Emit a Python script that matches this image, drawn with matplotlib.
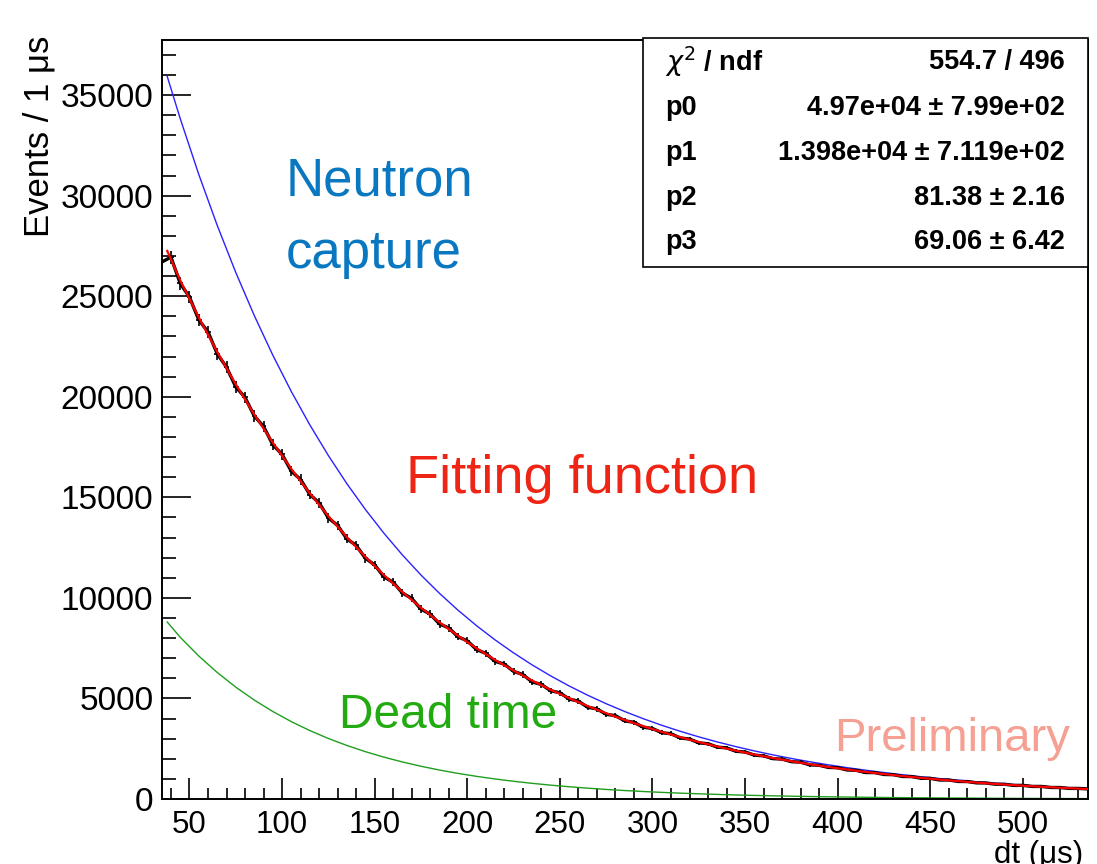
import numpy as np
import matplotlib
matplotlib.use("Agg")
import matplotlib.pyplot as plt
from matplotlib.patches import Rectangle
from matplotlib.ticker import MultipleLocator

plt.rcParams['font.family'] = ['Liberation Sans', 'DejaVu Sans']

# curve sample times (us)
curve_t = [38, 45, 55, 65, 75, 85, 95, 105, 115, 125, 135, 145, 155, 165, 175,
           185, 195, 205, 215, 225, 235, 245, 255, 265, 275, 285, 295, 305, 315,
           325, 335, 345, 355, 365, 375, 385, 395, 405, 415, 425, 435, 445, 455,
           465, 475, 485, 495, 505, 515, 525, 535]

# neutron capture component (blue)
capture = [35920, 33833, 31061, 28517, 26181, 24036, 22067, 20259, 18600, 17076,
           15677, 14393, 13214, 12131, 11137, 10225, 9387, 8618, 7912, 7264,
           6669, 6123, 5621, 5161, 4738, 4350, 3993, 3666, 3366, 3090,
           2837, 2605, 2391, 2195, 2015, 1850, 1699, 1560, 1432, 1315,
           1207, 1108, 1017, 934, 857, 787, 723, 663, 609, 559, 513]

# dead time component (green)
dead = [8800, 8042, 7112, 6290, 5562, 4919, 4350, 3847, 3402, 3009,
        2661, 2353, 2081, 1841, 1628, 1440, 1273, 1126, 996, 880,
        779, 689, 609, 539, 476, 421, 373, 329, 291, 258,
        228, 201, 178, 158, 139, 123, 109, 96, 85, 75,
        67, 59, 52, 46, 41, 36, 32, 28, 25, 22, 19]

# fitting function (red)
fit = [27250, 25791, 23949, 22227, 20619, 19117, 17717, 16412, 15198, 14067,
       13016, 12040, 11133, 10290, 9509, 8785, 8114, 7492, 6916, 6384,
       5890, 5434, 5012, 4622, 4262, 3929, 3620, 3337, 3075, 2832,
       2609, 2404, 2213, 2037, 1876, 1727, 1590, 1464, 1347, 1240,
       1140, 1049, 965, 888, 816, 751, 691, 635, 584, 537, 494]

# measured histogram (events / 1 us), read every 5 us
data_t = list(range(35, 536, 5))
data = [26700, 26940, 25640, 24955, 23830, 23225, 22135, 21470, 20490, 19965,
        19045, 18525, 17615, 17135, 16300, 15885, 15140, 14725, 13975, 13600,
        12935, 12610, 11970, 11640, 11045, 10775, 10240, 9975, 9440, 9190,
        8705, 8505, 8065, 7865, 7430, 7240, 6845, 6705, 6345, 6190,
        5820, 5695, 5385, 5280, 4970, 4865, 4562, 4478, 4212, 4142,
        3889, 3812, 3570, 3505, 3297, 3244, 3035, 2981, 2792, 2748,
        2579, 2544, 2374, 2337, 2183, 2144, 2007, 1984, 1856, 1830,
        1697, 1677, 1570, 1555, 1444, 1425, 1317, 1312, 1220, 1209,
        1120, 1114, 1029, 1027, 945, 945, 873, 867, 801, 797,
        736, 735, 676, 678, 625, 624, 574, 570, 527, 525, 504]

stat_names = [r'$\chi^{2}$ / ndf', 'p0', 'p1', 'p2', 'p3']
stat_values = ['554.7 / 496', '4.97e+04 ± 7.99e+02', '1.398e+04 ± 7.119e+02',
               '81.38 ± 2.16', '69.06 ± 6.42']

W, H = 1097, 864
fig = plt.figure(figsize=(W / 100, H / 100), dpi=100)


def fx(x):
    return x / W


def fy(y):
    return 1 - y / H


ax = fig.add_axes([fx(161.7), fy(799), fx(1087.7) - fx(161.7), fy(40) - fy(799)])
ax.set_xlim(35, 535)
ax.set_ylim(0, 37740)

ax.plot(curve_t, dead, color='#1f9e1f', lw=1.0, zorder=2)
ax.plot(curve_t, capture, color='#2a22ff', lw=1.0, zorder=2)
ax.plot(data_t, data, color='black', lw=2.4, zorder=3)
ax.errorbar(data_t, data, yerr=np.sqrt(data) * 2.0, xerr=1.5, fmt='none',
            ecolor='black', elinewidth=1.2, capsize=0, zorder=3)
ax.plot(curve_t, fit, color='#ff0000', lw=1.6, zorder=4)

ax.xaxis.set_major_locator(MultipleLocator(50))
ax.xaxis.set_minor_locator(MultipleLocator(10))
ax.yaxis.set_major_locator(MultipleLocator(5000))
ax.yaxis.set_minor_locator(MultipleLocator(1000))
ax.tick_params(axis='x', which='major', direction='in', length=15, width=1.2,
               labelsize=22.5, pad=8)
ax.tick_params(axis='x', which='minor', direction='in', length=8, width=1.2)
ax.tick_params(axis='y', which='major', direction='in', length=21, width=1.2,
               labelsize=24, pad=6)
ax.tick_params(axis='y', which='minor', direction='in', length=10, width=1.2)
for s in ax.spines.values():
    s.set_linewidth(1.4)

# axis titles (ROOT style, right/top aligned)
fig.text(fx(39), fy(36), 'Events / 1 μs', rotation=90, ha='center', va='top',
         fontsize=25)
fig.text(fx(1083), fy(840), 'dt (μs)', ha='right', va='top', fontsize=22.5)

# fit statistics box
fig.add_artist(Rectangle((fx(643), fy(267)), fx(1087.7) - fx(643), fy(38) - fy(267),
                         transform=fig.transFigure, facecolor='white',
                         edgecolor='black', lw=1.2, zorder=5))
rows_y = [62, 108, 153, 198, 242]
for name, val, ry in zip(stat_names, stat_values, rows_y):
    fig.text(fx(665), fy(ry), name, ha='left', va='center', fontsize=19.5,
             fontweight='bold', zorder=6)
    fig.text(fx(1065), fy(ry), val, ha='right', va='center', fontsize=19.5,
             fontweight='bold', zorder=6)

# annotations
fig.text(fx(286), fy(195), 'Neutron', color='#0a78c0', fontsize=38, va='baseline')
fig.text(fx(286), fy(268), 'capture', color='#0a78c0', fontsize=38, va='baseline')
fig.text(fx(406), fy(493), 'Fitting function', color='#ee2415', fontsize=39,
         va='baseline')
fig.text(fx(339), fy(728), 'Dead time', color='#22aa11', fontsize=34.5, va='baseline')
fig.text(fx(834), fy(751), 'Preliminary', color='#f5a093', fontsize=34, va='baseline')

fig.savefig('out.png', dpi=100)
